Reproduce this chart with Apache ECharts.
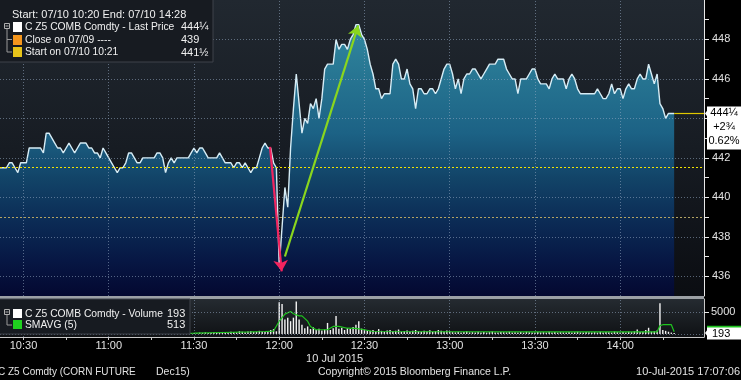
<!DOCTYPE html>
<html><head><meta charset="utf-8">
<script src="https://cdn.jsdelivr.net/npm/echarts@6/dist/echarts.min.js"></script>
<style>html,body{margin:0;padding:0;background:#000;overflow:hidden}#c{width:741px;height:380px}</style>
</head><body><div id="c"></div><script>
// ---------------- data ----------------
const startTime = "10:21";            // first one-minute bar
const prices = [
 441.5,441.5,441.5,441.5,441.75,441.75,441.5,441.25,441.75,441.75,
 441.75,442.5,442.5,442.5,442.5,442.5,442.25,443.25,443.25,443,
 442.75,442.5,442.5,442.25,442.5,442.75,442.5,442.25,442.5,442.75,
 442.75,442.75,442.5,442.5,442.25,442.25,442,442.5,442.25,442,
 441.75,441.5,441.25,441.5,441.5,441.75,442.25,442.25,442,441.75,
 441.75,442,442,442,442,442,442.25,442.25,442,441.25,
 441.75,442,441.75,442,442,442,442,442,442.25,442.5,
 442.25,442.5,442.5,442.25,442,442,442,442,442.25,442,
 441.75,441.75,441.75,441.5,441.75,441.75,441.5,441.75,441.5,441.25,
 441.5,441.5,442,442.5,442.75,442.5,442.5,441.75,441.5,436.5,
 438.5,440.5,439.5,442.5,444.5,446.25,444.75,443.25,444,443.75,
 444.75,444.5,445,444,445,446.5,446.75,446.75,446.75,448,
 447.5,447.75,447.75,447.5,448,448.25,448.75,448.75,448.25,448,
 447.5,446.75,446.25,445.5,445.5,445,445.25,445.25,445.25,446.75,
 447,446.75,446,446,446.5,445.75,445.5,444.5,445.5,445.5,
 445.25,445.25,445.5,445.5,445.25,445.5,446,446.5,446.75,446.75,
 446.25,445.5,446,445.25,446,446.25,446.25,446.5,446.5,446.25,
 446,446.25,446.5,446.75,446.75,446.75,447,447,447,446.5,
 446.25,446,446,445.25,446,446,446,446.25,446.5,446.5,
 446,445.75,445.75,445.75,445.5,446,446.25,446,446,446,
 445.5,446,446.25,446,445.5,445.25,445.25,445.25,445.25,445.25,
 445.25,445.5,445.25,445,445,445.25,445.75,445.25,445.5,445.5,
 445,445.5,445.75,445.5,445.5,446,446.25,446,446,446.75,
 446.25,445.75,446.25,444.75,444.5,444,444.25,444.25,444.25
];
const volumes = [
 150,120,80,160,60,90,210,110,70,130,
 180,90,60,140,100,230,80,120,90,160,
 70,110,130,60,90,150,80,100,120,70,
 190,90,110,60,140,80,100,120,90,130,
 90,170,110,60,150,100,80,210,120,90,
 140,70,110,160,90,130,80,100,180,70,
 120,150,90,110,200,80,130,100,160,220,
 180,300,250,350,200,280,400,260,330,450,
 300,380,520,420,350,600,480,400,550,620,
 450,500,700,580,520,650,900,1100,600,7200,
 6800,3300,3700,2900,3700,7400,3300,2100,1300,1700,
 1100,1500,900,1200,800,1000,2500,900,1300,4100,
 1200,1400,900,1300,1100,1600,2100,2900,1200,1000,
 800,700,900,600,1100,700,500,800,900,600,
 700,1000,500,650,800,550,700,900,600,500,
 750,600,850,500,650,900,700,550,800,600,
 400,350,500,300,450,600,350,400,300,500,
 350,450,300,400,550,350,300,450,400,350,
 500,300,400,350,450,300,500,400,350,300,
 450,350,400,300,500,350,450,300,400,350,
 300,450,350,400,500,350,300,450,400,350,
 400,300,500,350,450,400,300,550,400,350,
 450,300,500,400,600,1000,450,500,900,1400,
 500,600,800,7000,900,700,500,300,193
];
const smaTimes  = ["10:21","10:40","11:00","11:20","11:30","11:40","11:50","11:55","11:58","12:00","12:02","12:04","12:05","12:07","12:08","12:10","12:11","12:13","12:17","12:19","12:21","12:24","12:27","12:30","12:33","13:00","13:30","14:00","14:13","14:14","14:15","14:18","14:19"];
const smaValues = [150,140,150,140,200,320,450,550,650,2900,4500,5100,4600,4100,4100,2900,1700,950,950,1700,1700,1300,1250,950,550,500,450,450,480,1900,2100,2100,513];
const priorClose = 439;
const timeTicks = ["10:30","11:00","11:30","12:00","12:30","13:00","13:30","14:00"];
const timeMinorTicks = ["10:30","10:45","11:00","11:15","11:30","11:45","12:00","12:15","12:30","12:45","13:00","13:15","13:30","13:45","14:00","14:15"];
const priceTicks = [436,438,440,442,444,446,448];
const priceMinorTicks = [436,437,438,439,440,441,442,443,444,445,446,447,448,449];
const volumeTicks = [5000];
const volumeGrid = [0,5000];
const redArrow = [["11:56:46",442.56],["12:00:52",436.25]];
const greenArrow = [["12:02:00",437.0],["12:27:50",448.71]];

// ---------------- helpers ----------------
const toMin = s => { const p = s.split(':').map(Number); return (p[0]-10)*60 + p[1] + (p[2]||0)/60; };
const fmtTime = v => { const h = 10 + Math.floor(v/60), m = Math.round(v%60); return h + ':' + String(m).padStart(2,'0'); };
const frac = v => { const i = Math.floor(v), r = v - i; return i + ({0:'',0.25:'¼',0.5:'½',0.75:'¾'}[r] || ''); };
const FONT = '"Liberation Sans", Arial, sans-serif';
const X_MIN = 21.73, X_MAX = 269.5;

const t0 = toMin(startTime);
const priceData = prices.map((p,i)=>[t0+i,p]);
const volData = volumes.map((v,i)=>[t0+i,v]);
const smaData = smaTimes.map((t,i)=>[toMin(t),smaValues[i]]);
const last = prices[prices.length-1], first = prices[0];
const lastT = t0 + prices.length - 1;
const chg = last - first, pct = (chg/first*100).toFixed(2);

const G = echarts.graphic;
const gridDot = {color:'rgba(150,170,195,0.55)', type:[1,2], width:1};

const chart = echarts.init(document.getElementById('c'), null, {renderer:'canvas'});
const option = {
  animation:false,
  backgroundColor:'#000',
  textStyle:{fontFamily:FONT},
  grid:[
    {left:0, right:37, top:0, height:296, show:true, borderWidth:0,
     backgroundColor:new G.LinearGradient(0,0,0,1,[{offset:0,color:'#212830'},{offset:0.5,color:'#171c23'},{offset:1,color:'#0b0d12'}])},
    {left:0, right:37, top:299, height:38, show:true, borderWidth:0,
     backgroundColor:new G.LinearGradient(0,0,0,1,[{offset:0,color:'#252b31'},{offset:1,color:'#0f1114'}])}
  ],
  xAxis:[
    {gridIndex:0, type:'value', min:X_MIN, max:X_MAX, axisLine:{show:false}, axisTick:{show:false}, axisLabel:{show:false}, splitLine:{show:false}},
    {gridIndex:1, type:'value', min:X_MIN, max:X_MAX,
     axisLine:{show:true, onZero:false, lineStyle:{color:'#c8c8c8', width:1}},
     axisTick:{show:true, customValues:timeMinorTicks.map(toMin), length:3, lineStyle:{color:'#c8c8c8'}},
     axisLabel:{show:true, customValues:timeTicks.map(toMin), formatter:fmtTime, color:'#e2e2e2', fontSize:11, margin:3, fontFamily:FONT},
     splitLine:{show:false}}
  ],
  yAxis:[
    {gridIndex:0, type:'value', position:'right', min:435, max:450,
     axisLine:{show:true, lineStyle:{color:'#e8e8e8', width:1}},
     axisTick:{show:true, customValues:priceMinorTicks, length:5, lineStyle:{color:'#e8e8e8'}},
     axisLabel:{show:true, customValues:priceTicks, formatter:v=>String(v), color:'#e2e2e2', fontSize:11, margin:8, fontFamily:FONT},
     splitLine:{show:false}},
    {gridIndex:1, type:'value', position:'right', min:-700, max:7950,
     axisLine:{show:true, lineStyle:{color:'#c8c8c8', width:1}},
     axisTick:{show:true, customValues:volumeTicks, length:5, lineStyle:{color:'#e8e8e8'}},
     axisLabel:{show:true, customValues:volumeTicks, formatter:v=>String(v), color:'#e2e2e2', fontSize:11, margin:7, fontFamily:FONT},
     splitLine:{show:false}}
  ],
  series:[
    {type:'line', xAxisIndex:0, yAxisIndex:0, data:priceData, showSymbol:false, symbol:'none',
     lineStyle:{color:'#d6ecf5', width:1.4},
     areaStyle:{origin:'start', opacity:1, color:new G.LinearGradient(0,0,0,296,[
        {offset:0,color:'#3793ab'},{offset:0.2,color:'#2a7b96'},{offset:0.45,color:'#1c6285'},
        {offset:0.6,color:'#124468'},{offset:0.75,color:'#0b2b55'},{offset:0.88,color:'#071744'},{offset:1,color:'#040830'}], true)},
     markLine:{silent:true, animation:false, symbol:['none','none'], label:{show:false}, precision:4,
       data:[
         ...priceTicks.map(v=>({yAxis:v, lineStyle:gridDot})),
         ...timeTicks.map(t=>({xAxis:toMin(t), lineStyle:gridDot})),
         {yAxis:priorClose, lineStyle:{color:'#b3a463', type:[2,2], width:1}},
         {yAxis:first, lineStyle:{color:'#f2e400', type:[2,2], width:1}},
         [{coord:[lastT,last], lineStyle:{color:'#e0c800', width:1.2, type:'solid'}},{coord:[X_MAX,last]}],
         [{coord:[toMin(redArrow[0][0]),redArrow[0][1]], symbol:'none', lineStyle:{color:'#f2245f', width:2.2, type:'solid'}},
          {coord:[toMin(redArrow[1][0]),redArrow[1][1]], symbol:'arrow', symbolSize:11}],
         [{coord:[toMin(greenArrow[0][0]),greenArrow[0][1]], symbol:'none', lineStyle:{color:'#8ad61e', width:2.2, type:'solid'}},
          {coord:[toMin(greenArrow[1][0]),greenArrow[1][1]], symbol:'arrow', symbolSize:11}]
       ]}
    },
    {type:'bar', xAxisIndex:1, yAxisIndex:1, data:volData, barWidth:1.4, itemStyle:{color:'#f4f4f4'},
     markLine:{silent:true, animation:false, symbol:['none','none'], label:{show:false},
       data:[
         ...volumeGrid.map(v=>({yAxis:v, lineStyle:gridDot})),
         ...timeTicks.map(t=>({xAxis:toMin(t), lineStyle:gridDot}))
       ]}
    },
    {type:'line', xAxisIndex:1, yAxisIndex:1, data:smaData, showSymbol:false, symbol:'none', z:3,
     lineStyle:{color:'#1fc41f', width:1.2}}
  ]
};
chart.setOption(option);

// --------- overlays (legends, value tags, footer) ----------
const txt = (x,y,text,fill,align,size) => ({type:'text', x, y, z:100,
  style:{text, fill:fill||'#f0f0f0', font:(size||11)+'px '+FONT, align:align||'left', textAlign:align||'left', verticalAlign:'middle', textVerticalAlign:'middle'}});
const rect = (x,y,w,h,fill,stroke) => ({type:'rect', z:99, shape:{x,y,width:w,height:h}, style:{fill, stroke:stroke||null, lineWidth:1}});
const line = (x1,y1,x2,y2,c) => ({type:'line', z:100, shape:{x1,y1,x2,y2}, style:{stroke:c||'#9a9a9a', lineWidth:1}});

const yLast = chart.convertToPixel({yAxisIndex:0}, last);
const yVol = chart.convertToPixel({yAxisIndex:1}, volumes[volumes.length-1]);
const ySma = chart.convertToPixel({yAxisIndex:1}, smaValues[smaValues.length-1]);
const axX = chart.convertToPixel({xAxisIndex:0}, X_MAX);
const LS = 10.3;

const els = [
  // panel separator
  rect(0,296,axX,3,'#9ca0a5'),
  // price legend box
  rect(-1,-1,214,63,'#171b21','#3e434a'),
  txt(12,15,'Start: 07/10 10:20 End: 07/10 14:28'),
  rect(4.5,23.5,5,5,null,'#b0b0b0'), line(5.5,26,8.5,26,'#b0b0b0'),
  line(7,29,7,52,'#9a9a9a'), line(7,39.5,12,39.5,'#9a9a9a'), line(7,52,12,52,'#9a9a9a'),
  rect(13,22,9,10,'#ffffff'), rect(13,35,9,10,'#f5961d'), rect(13,47,9,10,'#e8c41a'),
  txt(25,27,'C Z5 COMB Comdty - Last Price',null,null,LS), txt(181,27,frac(last)),
  txt(25,40,'Close on 07/09 ----',null,null,LS), txt(181,40,frac(priorClose)),
  txt(25,52.5,'Start on 07/10 10:21',null,null,LS), txt(181,52.5,frac(first)),
  // volume legend box
  rect(-1,299,191,35,'#171b21','#3e434a'),
  rect(4.5,309.5,5,5,null,'#b0b0b0'), line(5.5,312,8.5,312,'#b0b0b0'),
  line(7,315,7,325,'#9a9a9a'), line(7,325,12,325,'#9a9a9a'),
  rect(13,309,9,9,'#ffffff'), rect(13,320,9,9,'#1fd21f'),
  txt(25,314,'C Z5 COMB Comdty - Volume',null,null,LS), txt(167,314,String(volumes[volumes.length-1])),
  txt(25,325,'SMAVG (5)',null,null,LS), txt(167,325,String(smaValues[smaValues.length-1])),
  // last price tag
  {type:'polygon', z:100, shape:{points:[[axX+1,yLast],[axX+4,yLast-4],[axX+4,yLast+4]]}, style:{fill:'#ffffff'}},
  rect(axX+3,yLast-7,34,43,'#ffffff'),
  txt(axX+20,yLast,frac(last),'#000','center'),
  txt(axX+20,yLast+14,'+'+frac(chg),'#000','center'),
  txt(axX+20,yLast+28,pct+'%','#000','center'),
  // volume tags
  rect(axX+3,ySma-6,34,12,'#1fc41f'),
  {type:'polygon', z:100, shape:{points:[[axX+1,yVol],[axX+4,yVol-4],[axX+4,yVol+4]]}, style:{fill:'#ffffff'}},
  rect(axX+3,yVol-5.5,34,12,'#ffffff'),
  txt(axX+8,yVol+0.5,String(volumes[volumes.length-1]),'#000','left'),
  // footer
  txt(363,359,'10 Jul 2015','#e2e2e2','right'),
  txt(-2,372,'C Z5 Comdty (CORN FUTURE','#e2e2e2',null,10),
  txt(156,372,'Dec15)','#e2e2e2',null,10.5),
  txt(318,372,'Copyright\u00a9 2015 Bloomberg Finance L.P.','#e2e2e2',null,10.5),
  txt(740,372,'10-Jul-2015 17:07:06','#e2e2e2','right')
];
chart.setOption({graphic:{elements:els}});
</script></body></html>
